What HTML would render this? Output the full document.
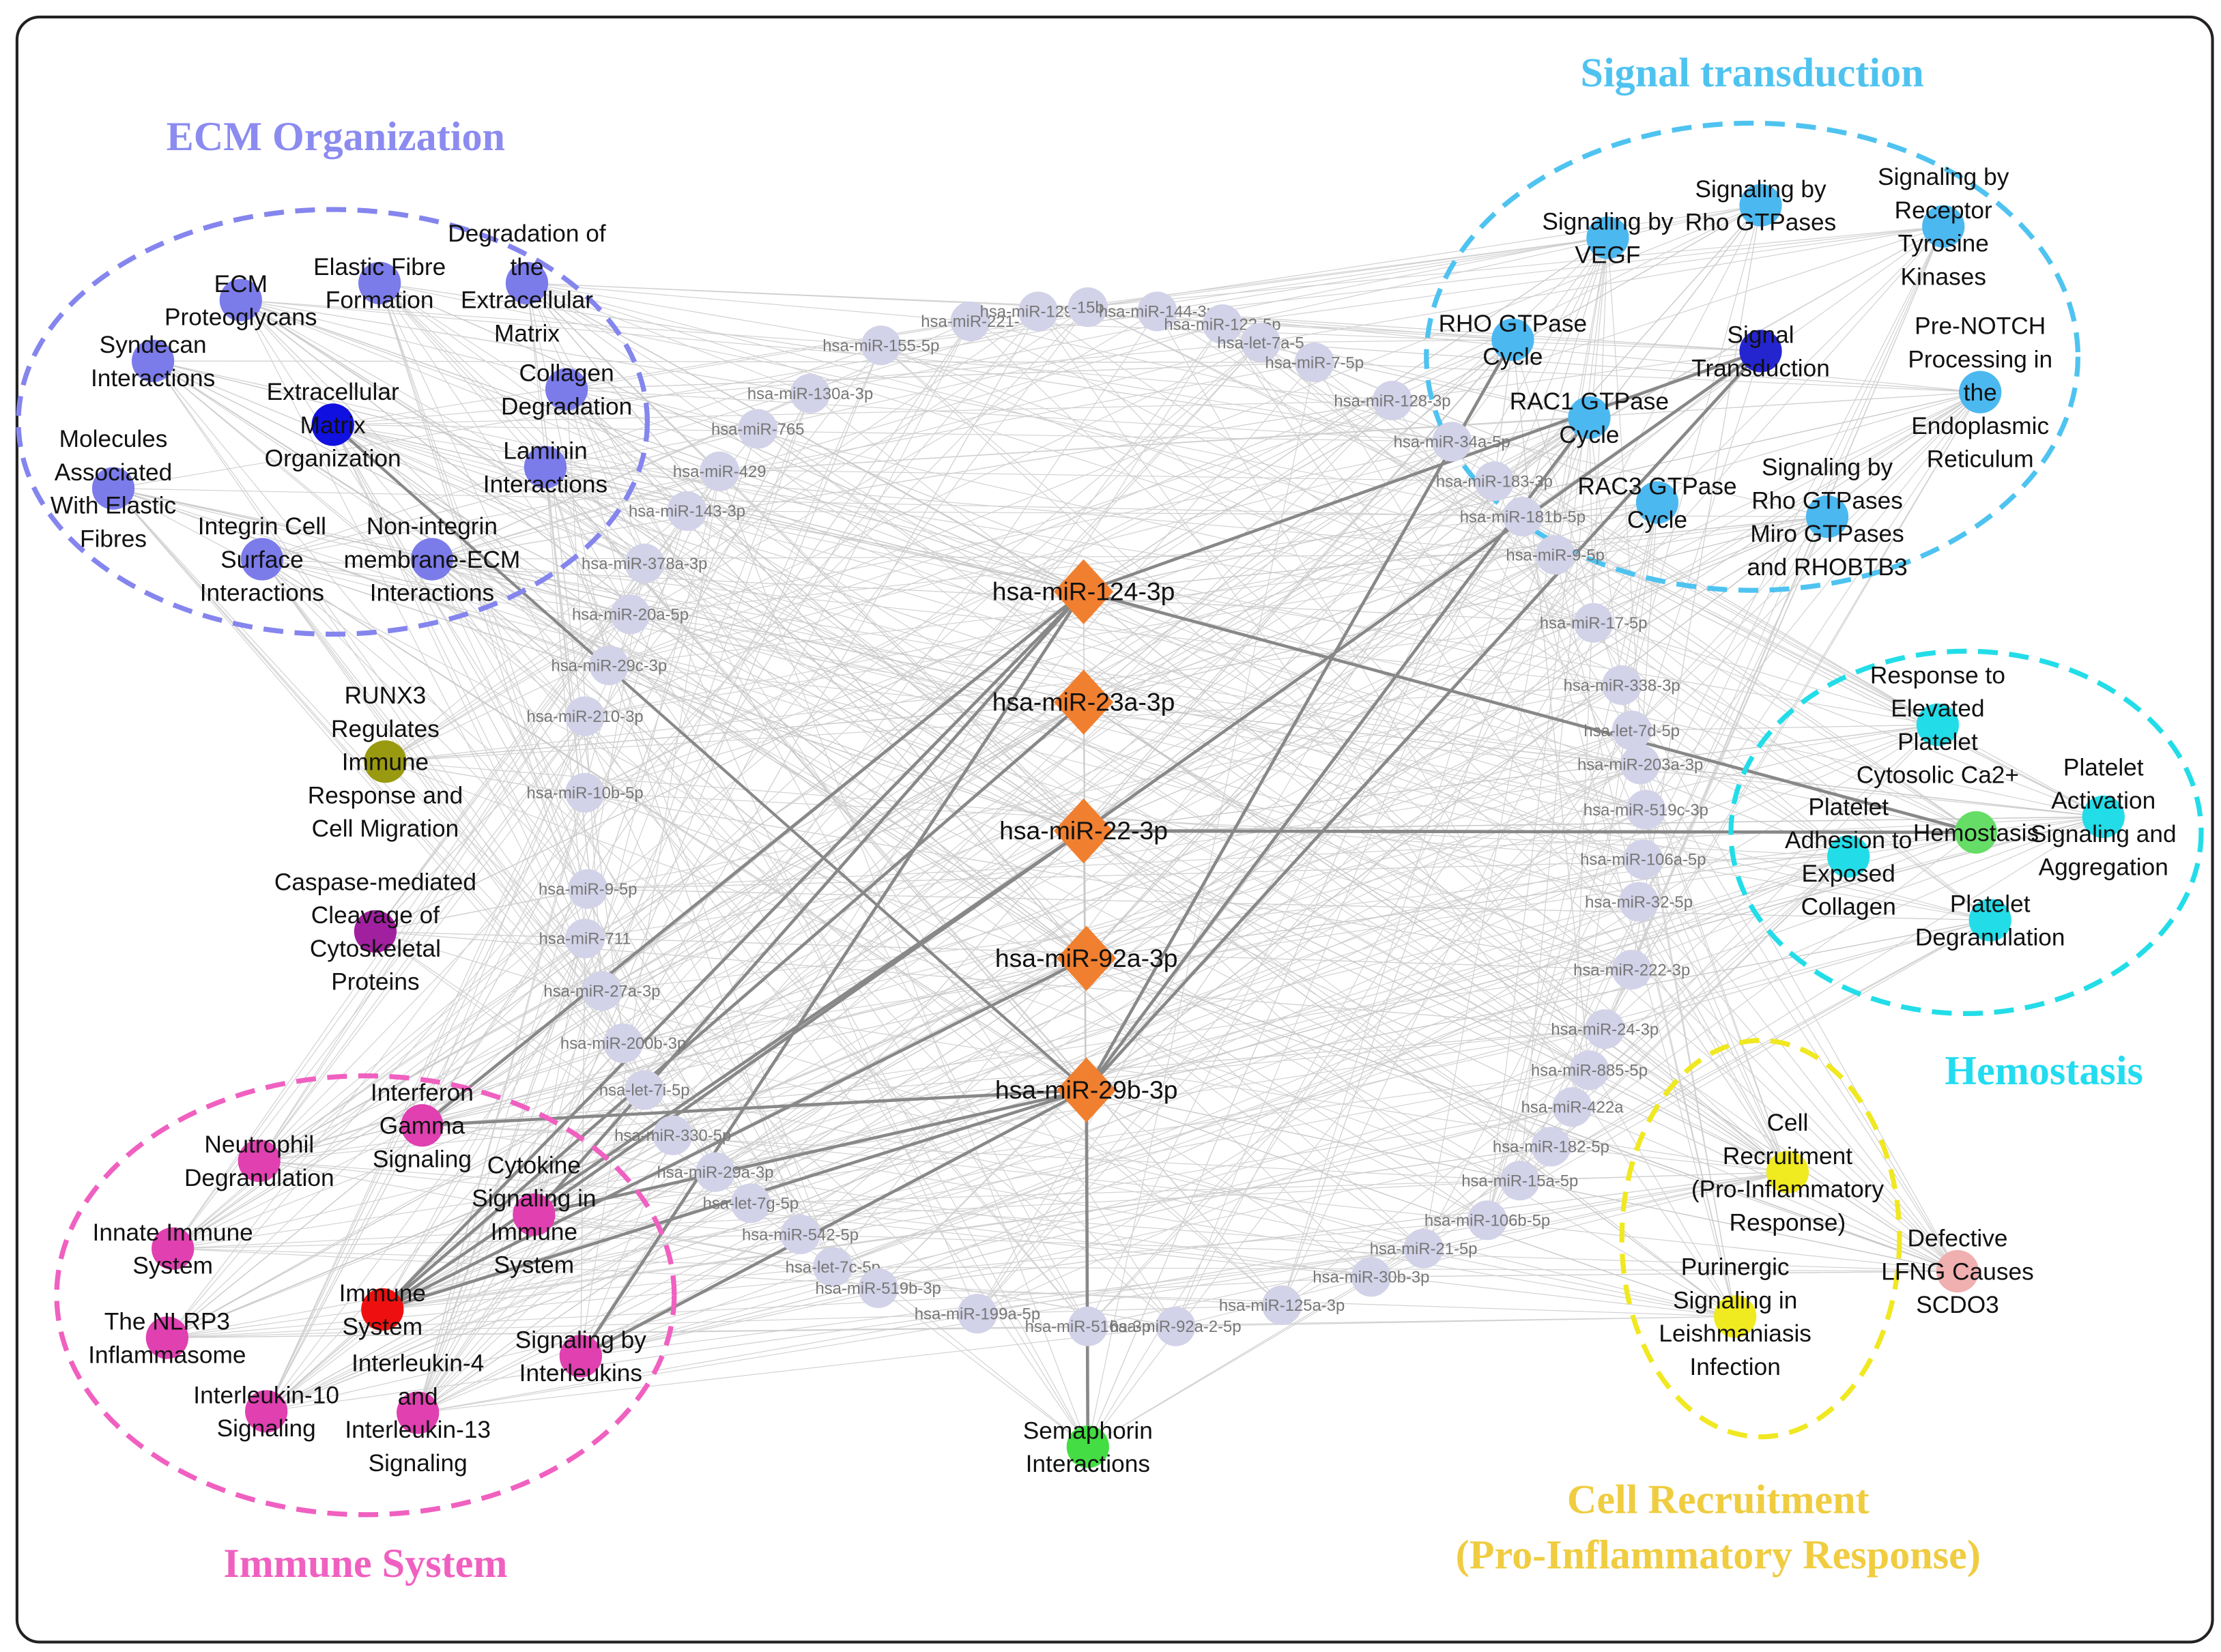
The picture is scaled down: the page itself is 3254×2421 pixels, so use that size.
<!DOCTYPE html>
<html><head><meta charset="utf-8">
<style>
html,body{margin:0;padding:0;background:#fff;}
svg{display:block;}
.pl{font-family:"Liberation Sans",sans-serif;font-size:17px;fill:#111;text-anchor:middle;}
.ml{font-family:"Liberation Sans",sans-serif;font-size:11.5px;fill:#777;text-anchor:middle;}
.dl{font-family:"Liberation Sans",sans-serif;font-size:18px;fill:#111;text-anchor:middle;}
.tt{font-family:"Liberation Serif",serif;font-size:29px;font-weight:bold;text-anchor:middle;}
</style></head>
<body>
<svg id="s" width="3254" height="2421" viewBox="0 0 1568 1167" preserveAspectRatio="none" xmlns="http://www.w3.org/2000/svg">
<rect x="12" y="12" width="1550" height="1148" rx="16" fill="#fff" stroke="#222" stroke-width="2"/>
<g id="edges"></g>
<g id="thick"></g>
<g fill="none" stroke-width="3.5" stroke-dasharray="14 8">
<ellipse cx="235" cy="298" rx="222" ry="150" stroke="#8585ee"/>
<ellipse cx="1237" cy="252" rx="230" ry="165" stroke="#4fc3f0"/>
<ellipse cx="1388" cy="588" rx="166" ry="128" stroke="#22dde8"/>
<ellipse cx="1243" cy="875" rx="98" ry="140" stroke="#f0e820"/>
<ellipse cx="258" cy="915" rx="218" ry="155" stroke="#f060c0"/>
</g>
<g id="nodes"></g>
<text class="tt" x="237" y="106" fill="#8b8bf0">ECM Organization</text>
<text class="tt" x="1237" y="61" fill="#4fc3f0">Signal transduction</text>
<text class="tt" x="1443" y="766" fill="#22dcf0">Hemostasis</text>
<text class="tt" x="1213" y="1069" fill="#f0cc40">Cell Recruitment</text>
<text class="tt" x="1213" y="1108" fill="#f0cc40">(Pro-Inflammatory Response)</text>
<text class="tt" x="258" y="1114" fill="#f060c0">Immune System</text>
</svg>
<script>
var NS="http://www.w3.org/2000/svg";
function el(p,t,a,txt){var e=document.createElementNS(NS,t);for(var k in a)e.setAttribute(k,a[k]);if(txt)e.textContent=txt;p.appendChild(e);return e;}
var P=[
[170,212,"#7b7bea",["ECM","Proteoglycans"]],
[268,200,"#7b7bea",["Elastic Fibre","Formation"]],
[372,200,"#7b7bea",["Degradation of","the","Extracellular","Matrix"]],
[108,255,"#7b7bea",["Syndecan","Interactions"]],
[235,300,"#1010e0",["Extracellular","Matrix","Organization"]],
[400,275,"#7b7bea",["Collagen","Degradation"]],
[80,345,"#7b7bea",["Molecules","Associated","With Elastic","Fibres"]],
[385,330,"#7b7bea",["Laminin","Interactions"]],
[185,395,"#7b7bea",["Integrin Cell","Surface","Interactions"]],
[305,395,"#7b7bea",["Non-integrin","membrane-ECM","Interactions"]],
[1243,145,"#4cb8f0",["Signaling by","Rho GTPases"]],
[1135,168,"#4cb8f0",["Signaling by","VEGF"]],
[1372,160,"#4cb8f0",["Signaling by","Receptor","Tyrosine","Kinases"]],
[1068,240,"#4cb8f0",["RHO GTPase","Cycle"]],
[1243,248,"#2525d0",["Signal","Transduction"]],
[1398,277,"#4cb8f0",["Pre-NOTCH","Processing in","the","Endoplasmic","Reticulum"]],
[1122,295,"#4cb8f0",["RAC1 GTPase","Cycle"]],
[1170,355,"#4cb8f0",["RAC3 GTPase","Cycle"]],
[1290,365,"#4cb8f0",["Signaling by","Rho GTPases","Miro GTPases","and RHOBTB3"]],
[1368,512,"#22dde8",["Response to","Elevated","Platelet","Cytosolic Ca2+"]],
[1395,588,"#66dd66",["Hemostasis"]],
[1485,577,"#22dde8",["Platelet","Activation","Signaling and","Aggregation"]],
[1305,605,"#22dde8",["Platelet","Adhesion to","Exposed","Collagen"]],
[1405,650,"#22dde8",["Platelet","Degranulation"]],
[1262,828,"#f0ea20",["Cell","Recruitment","(Pro-Inflammatory","Response)"]],
[1225,930,"#f0ea20",["Purinergic","Signaling in","Leishmaniasis","Infection"]],
[1382,898,"#f0b0b0",["Defective","LFNG Causes","SCDO3"]],
[298,795,"#e040b0",["Interferon","Gamma","Signaling"]],
[183,820,"#e040b0",["Neutrophil","Degranulation"]],
[377,858,"#e040b0",["Cytokine","Signaling in","Immune","System"]],
[122,882,"#e040b0",["Innate Immune","System"]],
[270,925,"#ee1010",["Immune","System"]],
[118,945,"#e040b0",["The NLRP3","Inflammasome"]],
[410,958,"#e040b0",["Signaling by","Interleukins"]],
[188,997,"#e040b0",["Interleukin-10","Signaling"]],
[295,998,"#e040b0",["Interleukin-4","and","Interleukin-13","Signaling"]],
[272,538,"#9a9a10",["RUNX3","Regulates","Immune","Response and","Cell Migration"]],
[265,658,"#a020a0",["Caspase-mediated","Cleavage of","Cytoskeletal","Proteins"]],
[768,1022,"#44dd44",["Semaphorin","Interactions"]]
];
var M=[[622,244,"hsa-miR-155-5p"],[685,227,"hsa-miR-221-"],[733,220,"hsa-miR-129-5p"],[768,217,"-15b"],[817,220,"hsa-miR-144-3p"],[863,229,"hsa-miR-122-5p"],[890,242,"hsa-let-7a-5"],[928,256,"hsa-miR-7-5p"],[572,278,"hsa-miR-130a-3p"],[983,283,"hsa-miR-128-3p"],[535,303,"hsa-miR-765"],[1025,312,"hsa-miR-34a-5p"],[508,333,"hsa-miR-429"],[1055,340,"hsa-miR-183-3p"],[485,361,"hsa-miR-143-3p"],[1075,365,"hsa-miR-181b-5p"],[1098,392,"hsa-miR-9-5p"],[455,398,"hsa-miR-378a-3p"],[445,434,"hsa-miR-20a-5p"],[1125,440,"hsa-miR-17-5p"],[430,470,"hsa-miR-29c-3p"],[1145,484,"hsa-miR-338-3p"],[1152,516,"hsa-let-7d-5p"],[413,506,"hsa-miR-210-3p"],[1158,540,"hsa-miR-203a-3p"],[413,560,"hsa-miR-10b-5p"],[1162,572,"hsa-miR-519c-3p"],[1160,607,"hsa-miR-106a-5p"],[415,628,"hsa-miR-9-5p"],[1157,637,"hsa-miR-32-5p"],[413,663,"hsa-miR-711"],[1152,685,"hsa-miR-222-3p"],[425,700,"hsa-miR-27a-3p"],[1133,727,"hsa-miR-24-3p"],[440,737,"hsa-miR-200b-3p"],[1122,756,"hsa-miR-885-5p"],[455,770,"hsa-let-7i-5p"],[1110,782,"hsa-miR-422a"],[475,802,"hsa-miR-330-5p"],[1095,810,"hsa-miR-182-5p"],[505,828,"hsa-miR-29a-3p"],[1073,834,"hsa-miR-15a-5p"],[530,850,"hsa-let-7g-5p"],[1050,862,"hsa-miR-106b-5p"],[565,872,"hsa-miR-542-5p"],[1005,882,"hsa-miR-21-5p"],[588,895,"hsa-let-7c-5p"],[968,902,"hsa-miR-30b-3p"],[620,910,"hsa-miR-519b-3p"],[905,922,"hsa-miR-125a-3p"],[690,928,"hsa-miR-199a-5p"],[768,937,"hsa-miR-516a-3p"],[830,937,"hsa-miR-92a-2-5p"]];
var D=[[765,418,"hsa-miR-124-3p"],[765,496,"hsa-miR-23a-3p"],[765,587,"hsa-miR-22-3p"],[767,677,"hsa-miR-92a-3p"],[767,770,"hsa-miR-29b-3p"]];
var seed=7;function rnd(){seed=(seed*16807)%2147483647;return seed/2147483647;}
var eg=document.getElementById("edges"),tg=document.getElementById("thick"),ng=document.getElementById("nodes");
M.forEach(function(m){for(var i=0;i<12;i++){var p=P[Math.floor(rnd()*P.length)];el(eg,"line",{x1:m[0],y1:m[1],x2:p[0],y2:p[1],stroke:"#d0d0d0","stroke-width":0.55});}});
D.forEach(function(d){for(var i=0;i<18;i++){var p=P[Math.floor(rnd()*P.length)];el(eg,"line",{x1:d[0],y1:d[1],x2:p[0],y2:p[1],stroke:"#c8c8c8","stroke-width":0.65});}});
var T=[[0,14],[0,20],[0,31],[0,29],[0,33],[2,14],[2,31],[2,29],[2,20],[4,14],[4,16],[4,31],[4,27],[4,38],[4,33],[4,29],[3,31],[1,31],[0,27],[4,13]];
T.forEach(function(t){var d=D[t[0]],p=P[t[1]];el(tg,"line",{x1:d[0],y1:d[1],x2:p[0],y2:p[1],stroke:"#888","stroke-width":2.2});});
el(tg,"line",{x1:235,y1:300,x2:767,y2:770,stroke:"#888","stroke-width":2});
el(tg,"line",{x1:765,y1:418,x2:1395,y2:588,stroke:"#888","stroke-width":2});
el(tg,"line",{x1:765,y1:587,x2:1395,y2:588,stroke:"#888","stroke-width":2.2});
el(tg,"line",{x1:767,y1:770,x2:768,y2:1022,stroke:"#888","stroke-width":2});
M.forEach(function(m){el(ng,"circle",{cx:m[0],cy:m[1],r:14,fill:"#d2d2e8"});el(ng,"text",{class:"ml",x:m[0],y:m[1]+4},m[2]);});
D.forEach(function(d){el(ng,"polygon",{points:(d[0])+","+(d[1]-23)+" "+(d[0]+21)+","+d[1]+" "+d[0]+","+(d[1]+23)+" "+(d[0]-21)+","+d[1],fill:"#f08030"});el(ng,"text",{class:"dl",x:d[0],y:d[1]+6},d[2]);});
P.forEach(function(p){el(ng,"circle",{cx:p[0],cy:p[1],r:15,fill:p[2]});var n=p[3].length,lh=23.5,y0=p[1]-(n-1)*lh/2+6;var t=el(ng,"text",{class:"pl",x:p[0],y:y0});p[3].forEach(function(s,i){el(t,"tspan",{x:p[0],y:y0+i*lh},s);});});
</script>
</body></html>
